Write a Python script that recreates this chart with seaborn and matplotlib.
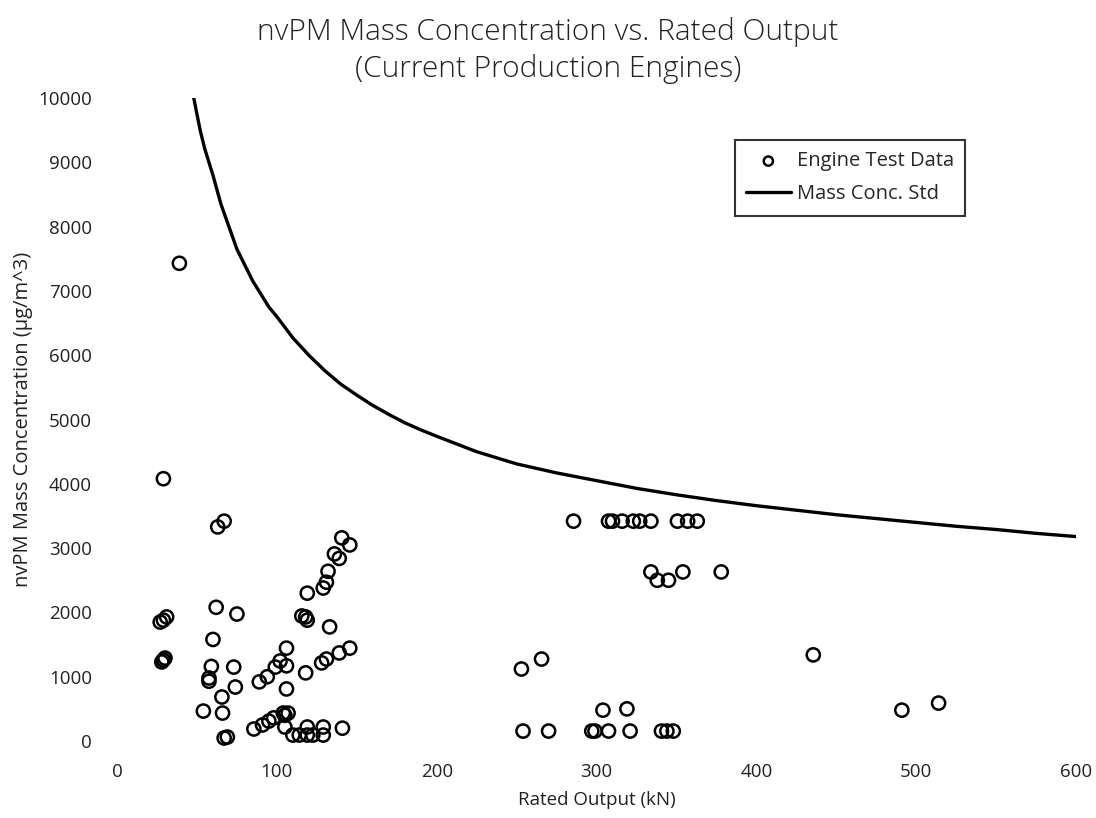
import matplotlib
matplotlib.use("Agg")
import matplotlib.pyplot as plt
import seaborn as sns
import pandas as pd

# Engine test data (Rated Output kN, nvPM mass conc ug/m^3)
engine_kn = [29, 27, 31, 29, 28, 29, 30, 39,
             54, 60, 62, 63, 67, 59, 57.5, 57.5,
             75, 73, 74, 65.6, 66, 67, 69,
             85.6, 91, 95, 98, 104, 107, 105, 105,
             110, 114, 119, 122.5, 129, 119, 129, 141,
             89, 94, 99, 102, 106, 106, 106, 118, 128, 131, 139, 145.6,
             115.6, 119, 118, 133, 119, 129, 131, 132, 139, 136, 140.6, 145.6,
             285.6, 307.5, 310, 316, 323, 327, 334, 350.6, 357, 363,
             334, 338, 345, 354, 378,
             253, 265.6, 304, 319,
             254, 270, 297, 299, 307.5, 321, 340.6, 344, 348,
             435.6, 491, 514]
engine_conc = [4080, 1850, 1930, 1880, 1230, 1260, 1290, 7430,
               466, 1580, 2080, 3330, 3420, 1160, 980, 930,
               1975, 1150, 840, 685, 435, 47, 62,
               187, 250, 310, 360, 435, 435, 400, 218,
               93, 93, 93, 93, 93, 218, 218, 200,
               920, 1000, 1150, 1245, 1445, 1170, 810, 1060, 1215, 1275, 1370, 1445,
               1945, 1880, 1930, 1775, 2300, 2380, 2470, 2640, 2840, 2910, 3160, 3050,
               3420, 3420, 3420, 3420, 3420, 3420, 3420, 3420, 3420, 3420,
               2630, 2500, 2500, 2630, 2630,
               1120, 1275, 480, 500,
               155, 155, 155, 155, 155, 155, 155, 155, 155,
               1340, 480, 590]

# Mass concentration standard curve
std_kn = [48, 52, 55, 60, 65, 70, 75, 80, 85, 90, 95, 100, 110, 120, 130, 140,
          150, 160, 170, 180, 190, 200, 225, 250, 275, 300, 325, 350, 375,
          400, 425, 450, 475, 500, 525, 550, 575, 600]
std_conc = [10000, 9500, 9200, 8800, 8350, 8000, 7650, 7400, 7150, 6950, 6750, 6600,
            6270, 6000, 5760, 5550, 5380, 5220, 5080, 4950, 4840, 4740, 4500,
            4310, 4170, 4050, 3930, 3830, 3740, 3660, 3590, 3520, 3460, 3400,
            3340, 3290, 3230, 3180]

title = "nvPM Mass Concentration vs. Rated Output\n(Current Production Engines)"
x_label = "Rated Output (kN)"
y_label = "nvPM Mass Concentration (µg/m^3)"
x_ticks = [0, 100, 200, 300, 400, 500, 600]
y_ticks = list(range(0, 10001, 1000))

sns.set_style("white")
plt.rcParams['font.family'] = ['Open Sans', 'DejaVu Sans']

fig = plt.figure(figsize=(10.96, 8.18), dpi=100)
ax = fig.add_axes([0.1068, 0.0941, 0.875, 0.786])

df_eng = pd.DataFrame({"kn": engine_kn, "conc": engine_conc})
df_std = pd.DataFrame({"kn": std_kn, "conc": std_conc})

sns.lineplot(data=df_std, x="kn", y="conc", ax=ax, color="black", linewidth=2.4,
             label="Mass Conc. Std", zorder=2)
sns.scatterplot(data=df_eng, x="kn", y="conc", ax=ax, marker="o", s=90,
                facecolor="none", edgecolor="black", linewidth=1.8,
                label="Engine Test Data", zorder=3, clip_on=False)

ax.set_xlim(0, 600)
ax.set_ylim(0, 10000)
ax.set_xticks(x_ticks)
ax.set_yticks(y_ticks)
ax.set_xticklabels([str(t) for t in x_ticks], fontsize=13.5, color="#222222")
ax.set_yticklabels([str(t) for t in y_ticks], fontsize=13.5, color="#222222")
ax.tick_params(axis="both", length=0)
ax.tick_params(axis="x", pad=16)
ax.tick_params(axis="y", pad=18)
for sp in ax.spines.values():
    sp.set_visible(False)
ax.grid(False)

ax.set_xlabel(x_label, fontsize=13.5, labelpad=7, color="#222222")
ax.set_ylabel(y_label, fontsize=14.5, labelpad=4, color="#222222")
fig.text(0.5, 0.938, title, fontsize=21.5, fontweight="light", ha="center",
         va="center", linespacing=1.3, color="#222222")

handles, labels = ax.get_legend_handles_labels()
order = [labels.index("Engine Test Data"), labels.index("Mass Conc. Std")]
leg = ax.legend([handles[i] for i in order], [labels[i] for i in order],
                loc="upper left", bbox_to_anchor=(0.634, 0.95),
                fontsize=14.5, frameon=True, fancybox=False, edgecolor="black",
                handlelength=2.2, borderpad=0.55, handletextpad=0.3,
                labelspacing=0.65, markerscale=0.7)
leg.get_frame().set_linewidth(1.5)

fig.savefig("out.png", dpi=100)
